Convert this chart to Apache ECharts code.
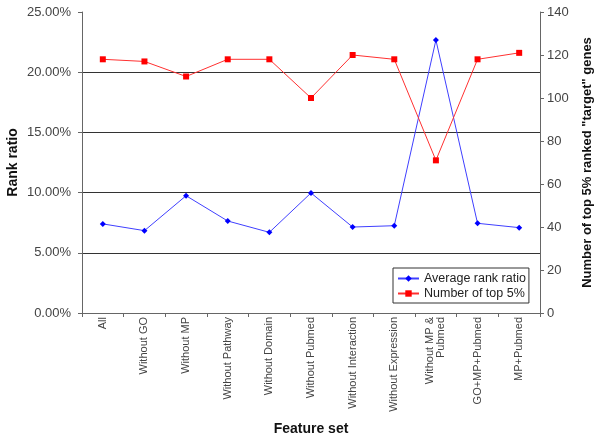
<!DOCTYPE html>
<html>
<head>
<meta charset="utf-8">
<script src="https://cdn.jsdelivr.net/npm/echarts@6/dist/echarts.min.js"></script>
<style>html,body{margin:0;padding:0;background:#fff;}#c{width:600px;height:437px;}</style>
</head>
<body>
<div id="c"></div>
<script>
var categories = ["All","Without GO","Without MP","Without Pathway","Without Domain","Without Pubmed","Without Interaction","Without Expression","Without MP &\nPubmed","GO+MP+Pubmed","MP+Pubmed"];
var avgRankRatio = [7.4, 6.84, 9.74, 7.64, 6.70, 9.97, 7.14, 7.25, 22.67, 7.45, 7.09];
var topCount = [118, 117, 110, 118, 118, 100, 120, 118, 71, 118, 121];
var leftTicks = [0, 5, 10, 15, 20, 25];
var rightTicks = [0, 20, 40, 60, 80, 100, 120, 140];

var chart = echarts.init(document.getElementById('c'));
var font = 'Liberation Sans, Arial, sans-serif';
chart.setOption({
  animation: false,
  textStyle: {fontFamily: font},
  grid: {left: 82, right: 60, top: 12, bottom: 124, containLabel: false, outerBoundsMode: 'none'},
  legend: {
    orient: 'vertical', left: 393, top: 268,
    backgroundColor: '#fff', borderColor: '#333', borderWidth: 1,
    padding: [4, 3, 3, 4], itemGap: 2, itemWidth: 21, itemHeight: 8,
    textStyle: {fontFamily: font, fontSize: 12.5, color: '#222'},
    data: ['Average rank ratio', 'Number of top 5%']
  },
  xAxis: {
    type: 'category', data: categories, boundaryGap: true,
    name: 'Feature set', nameLocation: 'middle', nameGap: 109, nameMoveOverlap: false,
    nameTextStyle: {fontFamily: font, fontSize: 14, fontWeight: 'bold', color: '#111'},
    axisLine: {lineStyle: {color: '#666', width: 1}},
    axisTick: {show: true, length: 4, lineStyle: {color: '#666'}},
    axisLabel: {rotate: 90, fontSize: 11, color: '#444', margin: 4, interval: 0, fontFamily: font, align: 'right', verticalAlign: 'middle'}
  },
  yAxis: [{
    type: 'value', min: 0, max: 25, interval: 5,
    name: 'Rank ratio', nameLocation: 'middle', nameGap: 62, nameRotate: 90, nameMoveOverlap: false,
    nameTextStyle: {fontFamily: font, fontSize: 14, fontWeight: 'bold', color: '#111'},
    axisLine: {show: true, lineStyle: {color: '#666'}},
    axisTick: {show: true, length: 4, lineStyle: {color: '#666'}},
    axisLabel: {fontSize: 13, color: '#444', margin: 11, fontFamily: font,
      formatter: function (v) { return v.toFixed(2) + '%'; }},
    splitLine: {show: true, showMinLine: false, showMaxLine: false, lineStyle: {color: '#333', width: 1}}
  }, {
    type: 'value', min: 0, max: 140, interval: 20, position: 'right',
    name: 'Number of top 5% ranked "target" genes', nameLocation: 'middle', nameGap: 41, nameRotate: 90, nameMoveOverlap: false,
    nameTextStyle: {fontFamily: font, fontSize: 13, fontWeight: 'bold', color: '#111'},
    axisLine: {show: true, lineStyle: {color: '#666'}},
    axisTick: {show: true, length: 4, lineStyle: {color: '#666'}},
    axisLabel: {fontSize: 13, color: '#444', margin: 7, fontFamily: font},
    splitLine: {show: false}
  }],
  series: [{
    name: 'Average rank ratio', type: 'line', yAxisIndex: 0, data: avgRankRatio,
    symbol: 'diamond', symbolSize: 6,
    lineStyle: {color: '#3f3fff', width: 1}, itemStyle: {color: '#0000ff'}
  }, {
    name: 'Number of top 5%', type: 'line', yAxisIndex: 1, data: topCount,
    symbol: 'rect', symbolSize: 6,
    lineStyle: {color: '#ff3030', width: 1}, itemStyle: {color: '#ff0000'}
  }]
});
</script>
</body>
</html>
